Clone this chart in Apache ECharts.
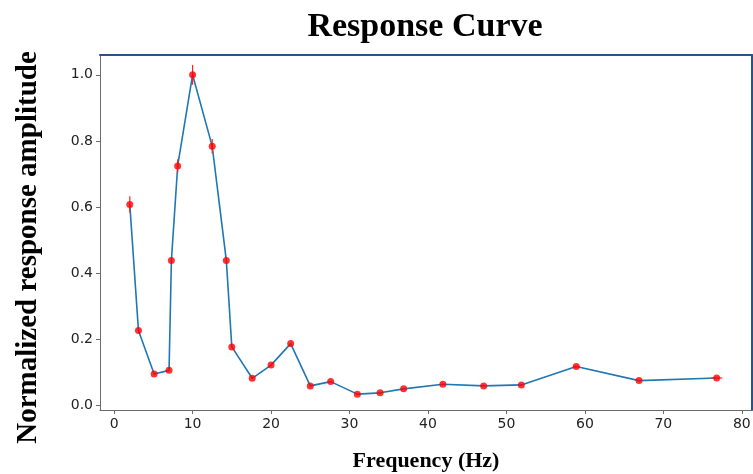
<!DOCTYPE html>
<html>
<head>
<meta charset="utf-8">
<script src="https://cdn.jsdelivr.net/npm/echarts@6/dist/echarts.min.js"></script>
<style>
  html, body { margin: 0; padding: 0; background: #ffffff; }
  #chart { width: 753px; height: 474px; }
</style>
</head>
<body>
<div id="chart"></div>
<script>
// Measured response: frequency (Hz) and normalized amplitude
const frequency = [2, 3.1, 5.1, 7.0, 7.3, 8.1, 10.0, 12.5, 14.3, 15.0, 17.6, 20.0, 22.5, 25.0, 27.6, 31.0, 33.9, 36.9, 41.9, 47.1, 51.9, 58.9, 66.9, 76.8];
const amplitude = [0.607, 0.226, 0.094, 0.105, 0.438, 0.724, 1.0, 0.784, 0.438, 0.176, 0.081, 0.121, 0.186, 0.058, 0.071, 0.033, 0.037, 0.049, 0.063, 0.058, 0.061, 0.117, 0.074, 0.082];
// Uncertainty per point: amplitude (vertical) and frequency (horizontal)
const ampError = [0.025, 0, 0, 0, 0, 0.02, 0.03, 0.022, 0, 0, 0, 0, 0, 0, 0, 0, 0, 0, 0, 0, 0, 0, 0, 0];
const freqError = [0, 0, 0, 0, 0, 0, 0, 0, 0, 0, 0, 0, 0, 0, 0, 0, 0, 0, 0, 0, 0, 0.4, 0, 0.7];

const xTicks = [0, 10, 20, 30, 40, 50, 60, 70, 80];
const yTicks = [0.0, 0.2, 0.4, 0.6, 0.8, 1.0];

const points = frequency.map((f, i) => [f, amplitude[i]]);
const errorRows = frequency.map((f, i) => [f, amplitude[i], ampError[i], freqError[i]]);

const axisGray = '#6b6b6b';
const frameBlue = '#2b5288';

const chart = echarts.init(document.getElementById('chart'), null, { renderer: 'canvas' });

chart.setOption({
  animation: false,
  backgroundColor: '#ffffff',
  title: {
    text: 'Response Curve',
    left: 420,
    textAlign: 'center',
    top: 5,
    textStyle: {
      fontFamily: 'Liberation Serif',
      fontWeight: 'bold',
      fontSize: 34,
      color: '#000000'
    }
  },
  grid: { left: 100, right: 1, top: 55, bottom: 64, outerBoundsMode: 'none', containLabel: false },
  xAxis: [
    {
      type: 'value',
      min: -1.8,
      max: 81.3,
      position: 'bottom',
      axisLine: { show: true, onZero: false, lineStyle: { color: axisGray, width: 1 } },
      axisTick: { show: true, length: 4, lineStyle: { color: axisGray }, customValues: xTicks },
      splitLine: { show: false },
      axisLabel: {
        show: true,
        margin: 7,
        fontFamily: 'DejaVu Sans',
        fontSize: 14,
        color: '#222222',
        customValues: xTicks
      },
      name: 'Frequency (Hz)',
      nameLocation: 'middle',
      nameGap: 40,
      nameTextStyle: {
        fontFamily: 'Liberation Serif',
        fontWeight: 'bold',
        fontSize: 22,
        color: '#000000'
      }
    },
    {
      type: 'value',
      min: -1.8,
      max: 81.3,
      position: 'top',
      axisLine: { show: true, onZero: false, lineStyle: { color: frameBlue, width: 2 } },
      axisTick: { show: false },
      axisLabel: { show: false },
      splitLine: { show: false }
    }
  ],
  yAxis: [
    {
      type: 'value',
      min: -0.015,
      max: 1.06,
      position: 'left',
      axisLine: { show: true, onZero: false, lineStyle: { color: axisGray, width: 1 } },
      axisTick: { show: true, length: 4, lineStyle: { color: axisGray }, customValues: yTicks },
      splitLine: { show: false },
      axisLabel: {
        show: true,
        margin: 7,
        fontFamily: 'DejaVu Sans',
        fontSize: 14,
        color: '#222222',
        customValues: yTicks,
        formatter: v => v.toFixed(1)
      },
      name: 'Normalized response amplitude',
      nameLocation: 'middle',
      nameGap: 57,
      nameRotate: 90,
      nameTextStyle: {
        fontFamily: 'Liberation Serif',
        fontWeight: 'bold',
        fontSize: 29,
        color: '#000000',
        padding: [0, 30, 0, 0]
      }
    },
    {
      type: 'value',
      min: -0.015,
      max: 1.06,
      position: 'right',
      axisLine: { show: true, onZero: false, lineStyle: { color: frameBlue, width: 2 } },
      axisTick: { show: false },
      axisLabel: { show: false },
      splitLine: { show: false }
    }
  ],
  series: [
    {
      type: 'line',
      data: points,
      xAxisIndex: 0,
      yAxisIndex: 0,
      symbol: 'none',
      lineStyle: { color: '#1f77b4', width: 1.6 },
      z: 2
    },
    {
      // thin red error bars
      type: 'custom',
      xAxisIndex: 0,
      yAxisIndex: 0,
      data: errorRows,
      z: 3,
      renderItem: function (params, api) {
        const x = api.value(0), y = api.value(1), ey = api.value(2), ex = api.value(3);
        const children = [];
        const style = { stroke: '#ff2020', lineWidth: 1.2 };
        if (ey > 0) {
          const a = api.coord([x, y - ey]);
          const b = api.coord([x, y + ey]);
          children.push({ type: 'line', shape: { x1: a[0], y1: a[1], x2: b[0], y2: b[1] }, style: style });
        }
        if (ex > 0) {
          const a = api.coord([x - ex, y]);
          const b = api.coord([x + ex, y]);
          children.push({ type: 'line', shape: { x1: a[0], y1: a[1], x2: b[0], y2: b[1] }, style: style });
        }
        return { type: 'group', children: children };
      }
    },
    {
      type: 'scatter',
      data: points,
      xAxisIndex: 0,
      yAxisIndex: 0,
      symbol: 'circle',
      symbolSize: 7,
      itemStyle: { color: '#ff0000' },
      z: 4
    }
  ]
});
</script>
</body>
</html>
